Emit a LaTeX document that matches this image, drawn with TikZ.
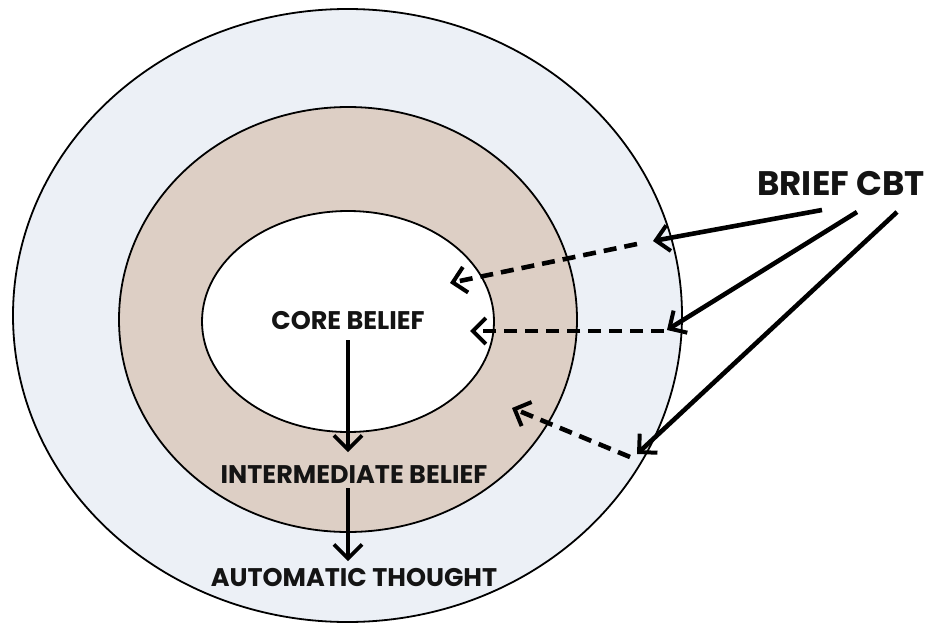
\documentclass[tikz,border=0pt]{standalone}
\usepackage{fontspec}
\setmainfont{Poppins}
\usetikzlibrary{arrows.meta,shapes.geometric}
\definecolor{outerfill}{RGB}{236,240,246}
\definecolor{midfill}{RGB}{221,207,197}
\tikzset{
  ring/.style={draw=black,line width=1.8pt,ellipse,inner sep=0pt,outer sep=0pt},
  lbl/.style={font=\bfseries\fontsize{25.5}{25.5}\selectfont,inner sep=0pt,text=black!92},
  chev/.style={-{Straight Barb[length=13pt,width=26pt,line width=4pt]}},
  solidarrow/.style={chev,line width=4.6pt},
  dasharrow/.style={chev,line width=4.6pt,dash pattern=on 13pt off 8pt},
  downarrow/.style={-{Straight Barb[length=14pt,width=28pt,line width=3.6pt]},line width=3.4pt},
}
\begin{document}
\begin{tikzpicture}[x=1pt,y=-1pt]
\useasboundingbox[fill=white] (0,0) rectangle (929,629);
\node[ring,fill=outerfill,minimum width=669pt,minimum height=613pt] (outer) at (347.5,315.5) {};
\node[ring,fill=midfill,minimum width=458pt,minimum height=425pt] (middle) at (348,319.5) {};
\node[ring,fill=white,minimum width=292pt,minimum height=221pt] (inner) at (348,321.5) {};

\node[lbl] (core) at (348,320.5) {CORE BELIEF};
\node[lbl] (inter) at (354,474.5) {INTERMEDIATE BELIEF};
\node[lbl] (auto) at (354,577.5) {AUTOMATIC THOUGHT};
\node[lbl,font=\bfseries\fontsize{34}{34}\selectfont] (brief) at (841,184) {BRIEF CBT};

\draw[downarrow] (348,340) -- (348,452);
\draw[downarrow] (348,488) -- (348,561);

\coordinate (s1) at (822,210);
\coordinate (s2) at (857,212);
\coordinate (s3) at (897,212);
\coordinate (e1) at (653,241);
\coordinate (e2) at (667,330);
\coordinate (e3) at (637,454);
\coordinate (f1) at (637,244);
\coordinate (f2) at (664,331);
\coordinate (f3) at (630,457);
\coordinate (d1) at (450,283);
\coordinate (d2) at (470,331);
\coordinate (d3) at (512,408);

\draw[solidarrow] (s1) -- (e1);
\draw[solidarrow] (s2) -- (e2);
\draw[solidarrow] (s3) -- (e3);
\draw[dasharrow] (f1) -- (d1);
\draw[dasharrow] (f2) -- (d2);
\draw[dasharrow] (f3) -- (d3);
\end{tikzpicture}
\end{document}
